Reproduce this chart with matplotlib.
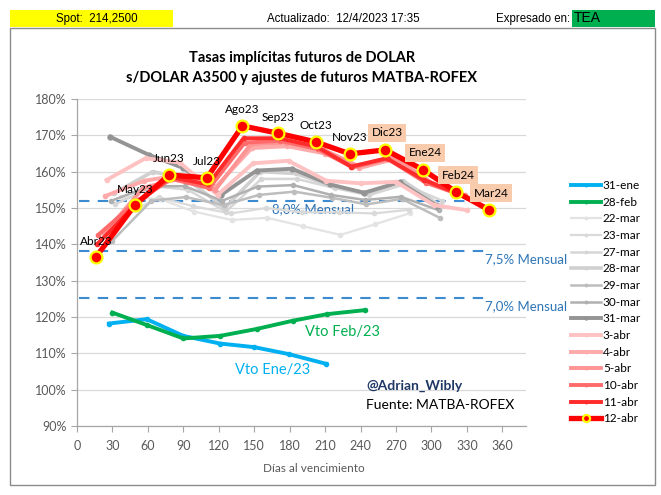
import matplotlib
matplotlib.use("Agg")
import matplotlib.pyplot as plt
from matplotlib.patches import Rectangle

# ---------------- data ----------------
series_names = ["31-ene", "28-feb", "22-mar", "23-mar", "27-mar", "28-mar", "29-mar",
                "30-mar", "31-mar", "3-abr", "4-abr", "5-abr", "10-abr", "11-abr", "12-abr"]

days_31ene = [27, 59, 90, 121, 150, 179, 211]
vals_31ene = [118.2, 119.4, 114.8, 112.7, 111.7, 109.8, 107.1]
days_28feb = [30, 59, 90, 121, 152, 183, 212, 244]
vals_28feb = [121.2, 117.8, 114.1, 114.8, 116.7, 119.0, 120.8, 121.9]
days_22mar = [37, 70, 99, 131, 161, 191, 223, 252, 282]
vals_22mar = [153.0, 152.5, 149.0, 146.7, 147.3, 145.0, 142.6, 145.5, 148.6]
days_23mar = [36, 69, 98, 130, 160, 190, 222, 251, 281]
vals_23mar = [147.0, 153.0, 150.5, 148.5, 150.0, 148.8, 148.8, 148.5, 149.5]
days_27mar = [32, 65, 94, 126, 156, 186, 218, 247, 277, 309]
vals_27mar = [151.0, 156.0, 155.0, 149.0, 158.0, 158.0, 155.5, 153.5, 156.5, 152.0]
days_28mar = [31, 64, 93, 125, 155, 185, 217, 246, 276, 308]
vals_28mar = [154.0, 160.0, 158.0, 150.0, 160.0, 159.5, 156.0, 154.0, 157.5, 150.5]
days_29mar = [30, 63, 92, 124, 154, 184, 216, 245, 275, 307]
vals_29mar = [141.0, 152.0, 153.0, 150.8, 153.6, 154.5, 152.8, 151.0, 152.5, 147.3]
days_30mar = [29, 62, 91, 123, 153, 183, 215, 244, 274, 306]
vals_30mar = [152.0, 156.0, 156.0, 152.0, 155.9, 156.3, 153.6, 152.2, 153.1, 149.4]
days_31mar = [28, 61, 90, 122, 152, 182, 214, 243, 273, 305]
vals_31mar = [169.6, 164.6, 161.0, 153.6, 160.3, 160.8, 156.5, 154.2, 157.1, 150.5]
days_3abr = [25, 58, 87, 119, 149, 179, 211, 240, 270, 302, 330]
vals_3abr = [157.7, 163.7, 162.5, 153.6, 162.3, 163.0, 157.5, 156.8, 157.2, 150.8, 149.4]
days_4abr = [24, 57, 86, 118, 148, 178, 210, 239, 269, 301, 329]
vals_4abr = [153.3, 157.5, 159.0, 156.0, 166.5, 167.0, 165.0, 161.0, 163.5, 156.5, 153.0]
days_5abr = [23, 56, 85, 117, 147, 177, 209, 238, 268, 300, 328]
vals_5abr = [143.0, 155.5, 158.0, 155.0, 167.5, 168.0, 166.0, 161.5, 164.0, 157.0, 153.5]
days_10abr = [18, 51, 80, 112, 142, 172, 204, 233, 263, 295, 323, 351]
vals_10abr = [142.6, 152.0, 158.0, 155.5, 168.0, 168.5, 166.2, 161.2, 163.5, 157.0, 153.8, 149.5]
days_11abr = [17, 50, 79, 111, 141, 171, 203, 232, 262, 294, 322, 350]
vals_11abr = [140.0, 151.0, 158.5, 156.5, 169.2, 169.2, 166.9, 161.4, 163.7, 157.7, 154.0, 149.5]
days_12abr = [16, 49, 78, 110, 140, 170, 202, 231, 261, 293, 321, 349]
vals_12abr = [136.5, 150.8, 159.1, 158.3, 172.6, 170.6, 168.2, 164.9, 166.0, 160.5, 154.4, 149.4]

contract_labels = ["Abr23", "May23", "Jun23", "Jul23", "Ago23", "Sep23", "Oct23", "Nov23",
                   "Dic23", "Ene24", "Feb24", "Mar24"]
boxed_labels = ["Dic23", "Ene24", "Feb24", "Mar24"]

ref_names = ["8,0% Mensual", "7,5% Mensual", "7,0% Mensual"]
ref_values = [151.8, 138.2, 125.2]
ref_days = [2, 350]

x_ticks = [0, 30, 60, 90, 120, 150, 180, 210, 240, 270, 300, 330, 360]
y_ticks = [90, 100, 110, 120, 130, 140, 150, 160, 170, 180]

# ---------------- styles ----------------
styles = {
    "31-ene": dict(color="#00B0F0", lw=2.8, ms=3),
    "28-feb": dict(color="#00B050", lw=2.8, ms=3),
    "22-mar": dict(color="#E3E3E3", lw=1.6, ms=3),
    "23-mar": dict(color="#DADADA", lw=1.6, ms=3),
    "27-mar": dict(color="#D6D6D6", lw=1.8, ms=3),
    "28-mar": dict(color="#D0D0D0", lw=2.6, ms=3),
    "29-mar": dict(color="#BDBDBD", lw=1.8, ms=3),
    "30-mar": dict(color="#B0B0B0", lw=1.8, ms=3),
    "31-mar": dict(color="#949494", lw=2.8, ms=3.5),
    "3-abr": dict(color="#FFC2C2", lw=2.8, ms=3),
    "4-abr": dict(color="#FFAAAA", lw=2.8, ms=3),
    "5-abr": dict(color="#FF9494", lw=2.8, ms=3),
    "10-abr": dict(color="#FF6A6A", lw=2.8, ms=3),
    "11-abr": dict(color="#FF2A2A", lw=2.8, ms=3),
}

data = {
    "31-ene": (days_31ene, vals_31ene), "28-feb": (days_28feb, vals_28feb),
    "22-mar": (days_22mar, vals_22mar), "23-mar": (days_23mar, vals_23mar),
    "27-mar": (days_27mar, vals_27mar), "28-mar": (days_28mar, vals_28mar),
    "29-mar": (days_29mar, vals_29mar), "30-mar": (days_30mar, vals_30mar),
    "31-mar": (days_31mar, vals_31mar), "3-abr": (days_3abr, vals_3abr),
    "4-abr": (days_4abr, vals_4abr), "5-abr": (days_5abr, vals_5abr),
    "10-abr": (days_10abr, vals_10abr), "11-abr": (days_11abr, vals_11abr),
    "12-abr": (days_12abr, vals_12abr),
}

plt.rcParams["font.family"] = ["Lato", "DejaVu Sans"]

W, H = 661, 495
fig = plt.figure(figsize=(W / 100, H / 100), dpi=100)
fig.patch.set_facecolor("white")

def fx(px):
    return px / W

def fy(py):
    return 1 - py / H

# outer border
fig.add_artist(Rectangle((fx(10), fy(485)), fx(655) - fx(10), fy(28) - fy(485),
                         transform=fig.transFigure, fill=False, edgecolor="#8C8C8C", lw=1))
# header boxes
fig.add_artist(Rectangle((fx(10), fy(27)), fx(173) - fx(10), fy(10) - fy(27),
                         transform=fig.transFigure, facecolor="#FFFF00", edgecolor="none"))
fig.add_artist(Rectangle((fx(572), fy(27)), fx(655) - fx(572), fy(10) - fy(27),
                         transform=fig.transFigure, facecolor="#00B050", edgecolor="none"))
hdr = dict(family=["Liberation Sans", "DejaVu Sans"], fontsize=8.3, va="center", color="#000000")
fig.text(fx(97), fy(19), "Spot:  214,2500", ha="center", **hdr)
fig.text(fx(343), fy(19), "Actualizado:  12/4/2023 17:35", ha="center", **hdr)
fig.text(fx(570), fy(19), "Expresado en:", ha="right", **hdr)
fig.text(fx(574), fy(18.5), "TEA", ha="left", family=["Liberation Sans", "DejaVu Sans"],
         fontsize=10, va="center", color="#000000")

# titles
fig.text(fx(302), fy(58), "Tasas implícitas futuros de DOLAR", ha="center", va="center",
         fontsize=10.5, fontweight="bold", color="#000000")
fig.text(fx(302), fy(78), "s/DOLAR A3500 y ajustes de futuros MATBA-ROFEX", ha="center",
         va="center", fontsize=10.5, fontweight="bold", color="#000000")

ax = fig.add_axes([fx(77), fy(426), fx(526) - fx(77), fy(99) - fy(426)])
ax.set_xlim(0, 380)
ax.set_ylim(90, 180)
ax.set_xticks(x_ticks)
ax.set_yticks(y_ticks)
ax.set_yticklabels([f"{v}%" for v in y_ticks])
ax.tick_params(axis="both", colors="#A6A6A6", labelcolor="#595959", labelsize=9, length=4,
               direction="out", width=0.8)
ax.tick_params(axis="x", pad=6)
for s in ["top", "right"]:
    ax.spines[s].set_visible(False)
for s in ["left", "bottom"]:
    ax.spines[s].set_color("#A6A6A6")
    ax.spines[s].set_linewidth(0.9)
ax.grid(axis="y", color="#D9D9D9", lw=0.9)
ax.set_axisbelow(True)

# reference dashed lines
for name, v in zip(ref_names, ref_values):
    ax.plot(ref_days, [v, v], color="#3C8AD0", lw=1.5, dashes=(5, 4), zorder=2)
ax.text(200, ref_values[0] - 0.6, ref_names[0], color="#2E75B6", fontsize=9.5, ha="center", va="top")
ax.text(345, ref_values[1] - 0.6, ref_names[1], color="#2E75B6", fontsize=9.5, ha="left", va="top")
ax.text(345, ref_values[2] - 0.6, ref_names[2], color="#2E75B6", fontsize=9.5, ha="left", va="top")

handles = {}
for name in series_names[:-1]:
    d, v = data[name]
    st = styles[name]
    h, = ax.plot(d, v, color=st["color"], lw=st["lw"], marker="o", ms=st["ms"],
                 mec=st["color"], mfc=st["color"], zorder=3, solid_joinstyle="round")
    handles[name] = h

d, v = data["12-abr"]
h, = ax.plot(d, v, color="#FF0000", lw=3.8, marker="o", ms=8.5, mfc="#FF0000", mec="#FFFF00",
             mew=1.6, zorder=5)
handles["12-abr"] = h

# contract labels
for lab, xd, yv in zip(contract_labels, days_12abr, vals_12abr):
    if lab in boxed_labels:
        ax.annotate(lab, (xd, yv), xytext=(2, 17), textcoords="offset pixels", ha="center",
                    va="center", fontsize=8.5, color="#000000", zorder=6,
                    bbox=dict(boxstyle="square,pad=0.3", fc="#F8CBAD", ec="none"))
    else:
        ax.annotate(lab, (xd, yv), xytext=(0, 16), textcoords="offset pixels", ha="center",
                    va="center", fontsize=8.5, color="#000000", zorder=6)

ax.text(193, 115.9, "Vto Feb/23", color="#00B050", fontsize=10.5, ha="left", va="center")
ax.text(134, 105.4, "Vto Ene/23", color="#00B0F0", fontsize=10.5, ha="left", va="center")
ax.text(245, 101.0, "@Adrian_Wibly", color="#1F3864", fontsize=10, fontweight="bold",
        ha="left", va="center")
ax.text(245, 95.8, "Fuente: MATBA-ROFEX", color="#000000", fontsize=10, ha="left", va="center")

fig.text(fx(314), fy(468), "Días al vencimiento", ha="center", va="center", fontsize=8.5,
         color="#595959")

leg = fig.legend([handles[n] for n in series_names], series_names, loc="upper left",
                 bbox_to_anchor=(fx(571), fy(180)), frameon=False, fontsize=8.5,
                 handlelength=2.5, handletextpad=0.2, labelspacing=0.48, borderpad=0,
                 borderaxespad=0, markerscale=0.6)

fig.savefig("out.png", dpi=100)
